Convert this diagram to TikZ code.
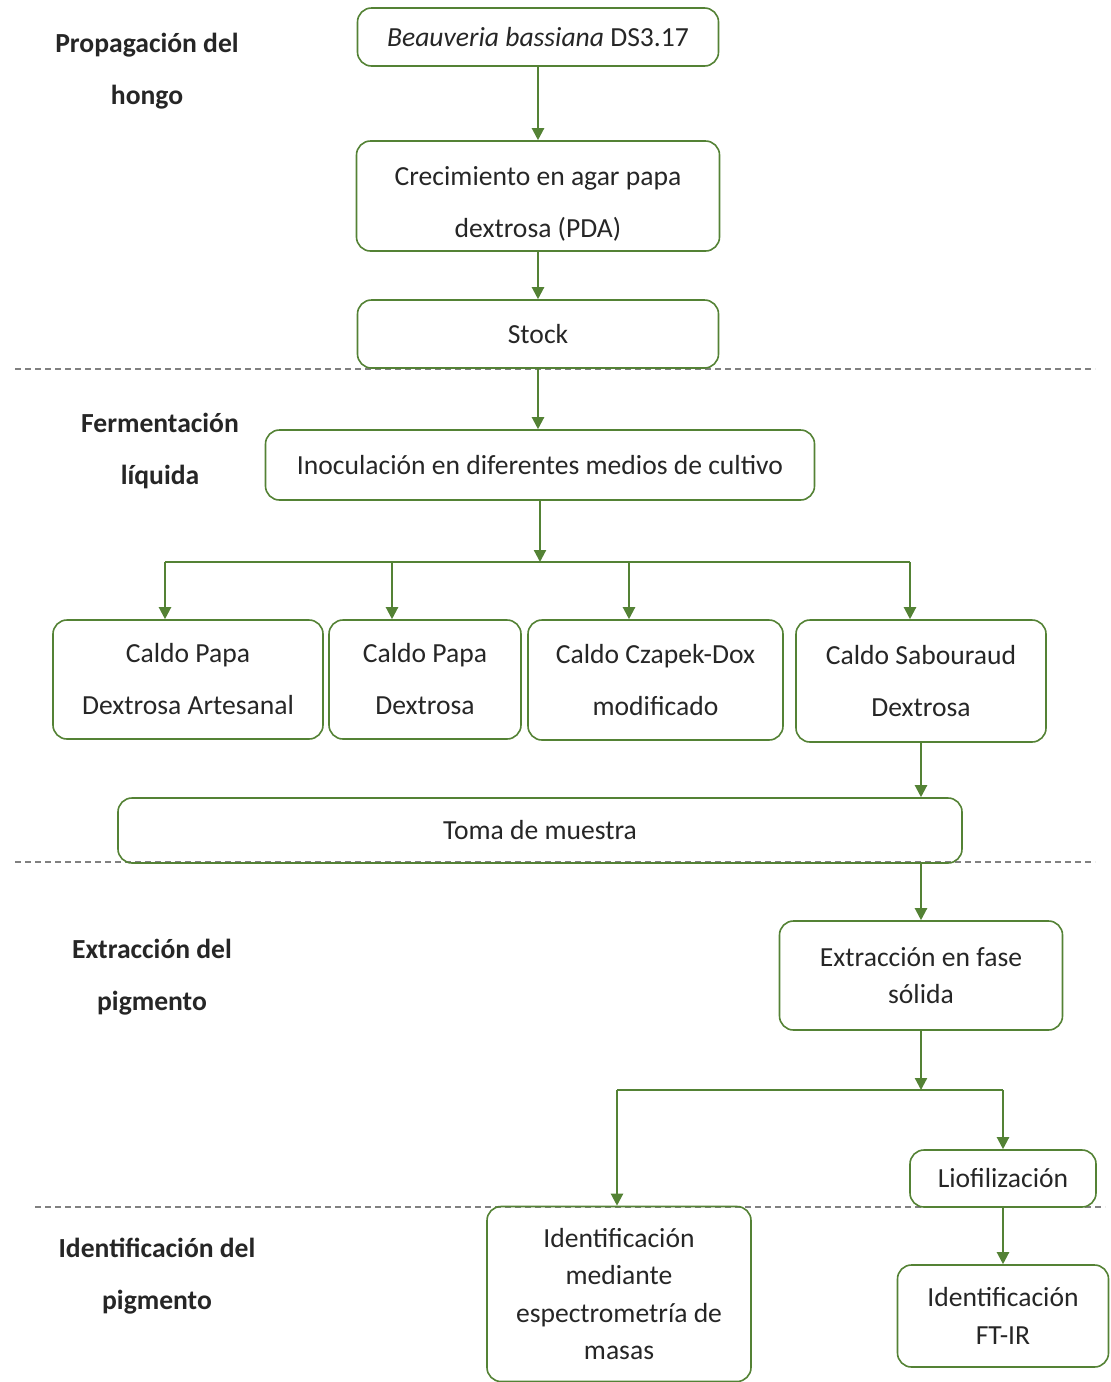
\documentclass[tikz,border=0pt]{standalone}
\usepackage{fontspec}
\setmainfont{Carlito}
\usetikzlibrary{positioning,arrows.meta}
\definecolor{verde}{RGB}{84,130,53}
\definecolor{texto}{RGB}{38,38,38}

\begin{document}
\begin{tikzpicture}[x=0.5pt,y=-0.5pt,>={Triangle[length=6pt,width=6pt]},
  font=\fontsize{13.8}{26}\selectfont,text=texto,
  paso/.style={draw=verde,line width=0.8pt,rounded corners=7pt,align=center,inner sep=0pt},
  apretado/.style={font=\fontsize{13.8}{18.75}\selectfont},
  etapa/.style={font=\bfseries\fontsize{13.8}{26}\selectfont,align=center},
  flecha/.style={->,draw=verde,line width=1.1pt},
  linea/.style={draw=verde,line width=1.1pt},
  divis/.style={draw=gray,line width=0.7pt,dash pattern=on 3pt off 2pt}]
  \useasboundingbox (0,0) rectangle (1110,1382);
  % etapas
  \node[etapa] (e1) at (147,71) {Propagación del\\hongo};
  \node[etapa] (e2) at (160,451) {Fermentación\\líquida};
  \node[etapa] (e3) at (152,977) {Extracción del\\pigmento};
  \node[etapa] (e4) at (157,1276) {Identificación del\\pigmento};
  % separadores
  \draw[divis] (15,369) -- (1095,369);
  \draw[divis] (15,862) -- (1095,862);
  \draw[divis] (35,1207) -- (1105,1207);
  % pasos
  \node[paso,minimum width=180.5pt,minimum height=29pt] (bea) at (538,37) {\textit{Beauveria bassiana} DS3.17};
  \node[paso,minimum width=181.5pt,minimum height=55pt] (cre) at (538,196) {\rule{0pt}{17pt}Crecimiento en agar papa\\dextrosa (PDA)};
  \node[paso,minimum width=180.5pt,minimum height=34pt] (sto) at (538,334) {Stock};
  \node[paso,minimum width=274.5pt,minimum height=35pt] (ino) at (540,465) {Inoculación en diferentes medios de cultivo};
  \node[paso,minimum width=135pt,minimum height=59.5pt] (cpa) at (188,679.5) {Caldo Papa\\Dextrosa Artesanal};
  \node[paso,minimum width=96pt,minimum height=59.5pt] (cpd) at (425,679.5) {Caldo Papa\\Dextrosa};
  \node[paso,minimum width=127.5pt,minimum height=60pt] (ccz) at (655.5,680) {Caldo Czapek-Dox\\modificado};
  \node[paso,minimum width=125pt,minimum height=61pt] (csd) at (921,681) {Caldo Sabouraud\\Dextrosa};
  \node[paso,minimum width=422pt,minimum height=32.5pt] (tom) at (540,830.5) {Toma de muestra};
  \node[paso,apretado,minimum width=141.5pt,minimum height=54.5pt] (ext) at (921,975.5) {Extracción en fase\\sólida};
  \node[paso,minimum width=93pt,minimum height=28.5pt] (lio) at (1003,1178.5) {Liofilización};
  \node[paso,apretado,minimum width=132pt,minimum height=87.5pt] (ims) at (619,1294) {Identificación\\mediante\\espectrometría de\\masas};
  \node[paso,apretado,minimum width=105.5pt,minimum height=51pt] (ftir) at (1003,1316) {Identificación\\FT-IR};
  % ramas
  \coordinate (rama) at (540,562);
  \coordinate (r1) at (165,562);
  \coordinate (r2) at (392,562);
  \coordinate (r3) at (629,562);
  \coordinate (r4) at (910,562);
  \coordinate (rama2) at (921,1090);
  \coordinate (r5) at (617,1090);
  \coordinate (r6) at (1003,1090);
  % flechas
  \draw[flecha] (bea) -- (bea |- cre.north);
  \draw[flecha] (cre) -- (cre |- sto.north);
  \draw[flecha] (sto) -- (sto |- ino.north);
  \draw[flecha] (ino) -- (rama);
  \draw[linea] (r1) -- (r4);
  \draw[flecha] (r1) -- (r1 |- cpa.north);
  \draw[flecha] (r2) -- (r2 |- cpd.north);
  \draw[flecha] (r3) -- (r3 |- ccz.north);
  \draw[flecha] (r4) -- (r4 |- csd.north);
  \draw[flecha] (csd.south) -- (csd.south |- tom.north);
  \draw[flecha] (tom.south -| ext.north) -- (ext.north);
  \draw[flecha] (ext) -- (rama2);
  \draw[linea] (r5) -- (r6);
  \draw[flecha] (r5) -- (r5 |- ims.north);
  \draw[flecha] (r6) -- (lio);
  \draw[flecha] (lio) -- (ftir);
\end{tikzpicture}
\end{document}
